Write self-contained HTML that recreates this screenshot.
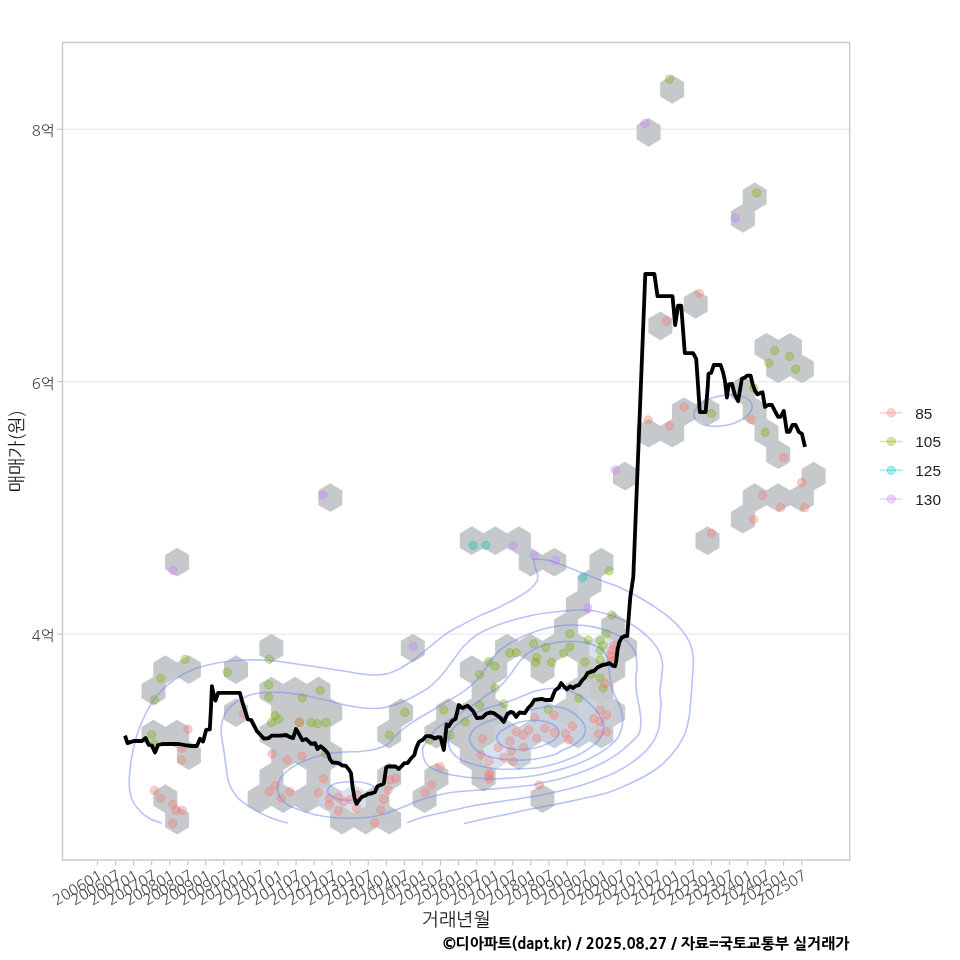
<!DOCTYPE html>
<html lang="ko"><head><meta charset="utf-8"><title>매매가 추이</title>
<style>
html,body{margin:0;padding:0;background:#fff;}
body{width:960px;height:960px;overflow:hidden;}
svg{display:block;}
.tk{font-family:"NanumGothic","Liberation Sans","Noto Sans CJK KR",sans-serif;font-size:14.9px;fill:#4d4d4d;}
.ax{font-family:"NanumGothic","Liberation Sans","Noto Sans CJK KR",sans-serif;font-size:18.4px;fill:#1a1a1a;}
.cap{font-family:"NanumGothic","Liberation Sans","Noto Sans CJK KR",sans-serif;font-size:14.9px;font-weight:800;fill:#000;}
.lg{font-family:"Liberation Sans","NanumGothic",sans-serif;font-size:15.4px;fill:#222;}
</style></head><body>
<svg width="960" height="960" viewBox="0 0 960 960">
<rect x="0" y="0" width="960" height="960" fill="#fff"/>
<line x1="62.5" x2="849.7" y1="129.3" y2="129.3" stroke="#ebebeb" stroke-width="1.4"/>
<line x1="62.5" x2="849.7" y1="381.7" y2="381.7" stroke="#ebebeb" stroke-width="1.4"/>
<line x1="62.5" x2="849.7" y1="634.1" y2="634.1" stroke="#ebebeb" stroke-width="1.4"/>
<path fill="#c5c9cc" d="M672.2,75.0 L684.2,82.2 L684.2,96.6 L672.2,103.8 L660.2,96.6 L660.2,82.2Z M648.6,118.0 L660.6,125.2 L660.6,139.6 L648.6,146.8 L636.6,139.6 L636.6,125.2Z M754.7,182.4 L766.7,189.7 L766.7,204.0 L754.7,211.2 L742.7,204.0 L742.7,189.7Z M742.9,203.9 L754.9,211.1 L754.9,225.5 L742.9,232.7 L730.9,225.5 L730.9,211.1Z M695.7,289.9 L707.7,297.1 L707.7,311.5 L695.7,318.7 L683.7,311.5 L683.7,297.1Z M660.4,311.4 L672.4,318.6 L672.4,333.0 L660.4,340.2 L648.4,333.0 L648.4,318.6Z M766.5,332.9 L778.5,340.1 L778.5,354.5 L766.5,361.7 L754.5,354.5 L754.5,340.1Z M790.0,332.9 L802.0,340.1 L802.0,354.5 L790.0,361.7 L778.0,354.5 L778.0,340.1Z M778.2,354.4 L790.2,361.6 L790.2,376.0 L778.2,383.2 L766.2,376.0 L766.2,361.6Z M801.8,354.4 L813.8,361.6 L813.8,376.0 L801.8,383.2 L789.8,376.0 L789.8,361.6Z M742.9,375.9 L754.9,383.1 L754.9,397.5 L742.9,404.7 L730.9,397.5 L730.9,383.1Z M683.9,397.4 L695.9,404.6 L695.9,418.9 L683.9,426.1 L671.9,418.9 L671.9,404.6Z M707.5,397.4 L719.5,404.6 L719.5,418.9 L707.5,426.1 L695.5,418.9 L695.5,404.6Z M754.7,397.4 L766.7,404.6 L766.7,418.9 L754.7,426.1 L742.7,418.9 L742.7,404.6Z M648.6,418.8 L660.6,426.0 L660.6,440.4 L648.6,447.6 L636.6,440.4 L636.6,426.0Z M672.2,418.8 L684.2,426.0 L684.2,440.4 L672.2,447.6 L660.2,440.4 L660.2,426.0Z M766.5,418.8 L778.5,426.0 L778.5,440.4 L766.5,447.6 L754.5,440.4 L754.5,426.0Z M778.2,440.3 L790.2,447.5 L790.2,461.9 L778.2,469.1 L766.2,461.9 L766.2,447.5Z M625.0,461.8 L637.0,469.0 L637.0,483.4 L625.0,490.6 L613.0,483.4 L613.0,469.0Z M813.6,461.8 L825.6,469.0 L825.6,483.4 L813.6,490.6 L801.6,483.4 L801.6,469.0Z M330.3,483.3 L342.3,490.5 L342.3,504.9 L330.3,512.1 L318.3,504.9 L318.3,490.5Z M754.7,483.3 L766.7,490.5 L766.7,504.9 L754.7,512.1 L742.7,504.9 L742.7,490.5Z M778.2,483.3 L790.2,490.5 L790.2,504.9 L778.2,512.1 L766.2,504.9 L766.2,490.5Z M801.8,483.3 L813.8,490.5 L813.8,504.9 L801.8,512.1 L789.8,504.9 L789.8,490.5Z M742.9,504.8 L754.9,512.0 L754.9,526.4 L742.9,533.6 L730.9,526.4 L730.9,512.0Z M471.8,526.3 L483.8,533.5 L483.8,547.9 L471.8,555.1 L459.8,547.9 L459.8,533.5Z M495.3,526.3 L507.3,533.5 L507.3,547.9 L495.3,555.1 L483.3,547.9 L483.3,533.5Z M518.9,526.3 L530.9,533.5 L530.9,547.9 L518.9,555.1 L506.9,547.9 L506.9,533.5Z M707.5,526.3 L719.5,533.5 L719.5,547.9 L707.5,555.1 L695.5,547.9 L695.5,533.5Z M177.1,547.8 L189.1,555.0 L189.1,569.4 L177.1,576.6 L165.1,569.4 L165.1,555.0Z M530.7,547.8 L542.7,555.0 L542.7,569.4 L530.7,576.6 L518.7,569.4 L518.7,555.0Z M554.3,547.8 L566.3,555.0 L566.3,569.4 L554.3,576.6 L542.3,569.4 L542.3,555.0Z M601.4,547.8 L613.4,555.0 L613.4,569.4 L601.4,576.6 L589.4,569.4 L589.4,555.0Z M589.6,569.3 L601.6,576.5 L601.6,590.9 L589.6,598.1 L577.6,590.9 L577.6,576.5Z M577.9,590.8 L589.9,598.0 L589.9,612.4 L577.9,619.6 L565.9,612.4 L565.9,598.0Z M566.1,612.2 L578.1,619.4 L578.1,633.9 L566.1,641.0 L554.1,633.9 L554.1,619.4Z M613.2,612.2 L625.2,619.4 L625.2,633.9 L613.2,641.0 L601.2,633.9 L601.2,619.4Z M271.4,633.7 L283.4,640.9 L283.4,655.3 L271.4,662.5 L259.4,655.3 L259.4,640.9Z M412.8,633.7 L424.8,640.9 L424.8,655.3 L412.8,662.5 L400.8,655.3 L400.8,640.9Z M507.1,633.7 L519.1,640.9 L519.1,655.3 L507.1,662.5 L495.1,655.3 L495.1,640.9Z M530.7,633.7 L542.7,640.9 L542.7,655.3 L530.7,662.5 L518.7,655.3 L518.7,640.9Z M554.3,633.7 L566.3,640.9 L566.3,655.3 L554.3,662.5 L542.3,655.3 L542.3,640.9Z M577.9,633.7 L589.9,640.9 L589.9,655.3 L577.9,662.5 L565.9,655.3 L565.9,640.9Z M625.0,633.7 L637.0,640.9 L637.0,655.3 L625.0,662.5 L613.0,655.3 L613.0,640.9Z M165.3,655.2 L177.3,662.4 L177.3,676.8 L165.3,684.0 L153.3,676.8 L153.3,662.4Z M188.9,655.2 L200.9,662.4 L200.9,676.8 L188.9,684.0 L176.9,676.8 L176.9,662.4Z M236.0,655.2 L248.0,662.4 L248.0,676.8 L236.0,684.0 L224.0,676.8 L224.0,662.4Z M471.8,655.2 L483.8,662.4 L483.8,676.8 L471.8,684.0 L459.8,676.8 L459.8,662.4Z M495.3,655.2 L507.3,662.4 L507.3,676.8 L495.3,684.0 L483.3,676.8 L483.3,662.4Z M542.5,655.2 L554.5,662.4 L554.5,676.8 L542.5,684.0 L530.5,676.8 L530.5,662.4Z M589.6,655.2 L601.6,662.4 L601.6,676.8 L589.6,684.0 L577.6,676.8 L577.6,662.4Z M613.2,655.2 L625.2,662.4 L625.2,676.8 L613.2,684.0 L601.2,676.8 L601.2,662.4Z M153.5,676.7 L165.5,683.9 L165.5,698.3 L153.5,705.5 L141.5,698.3 L141.5,683.9Z M271.4,676.7 L283.4,683.9 L283.4,698.3 L271.4,705.5 L259.4,698.3 L259.4,683.9Z M295.0,676.7 L307.0,683.9 L307.0,698.3 L295.0,705.5 L283.0,698.3 L283.0,683.9Z M318.5,676.7 L330.5,683.9 L330.5,698.3 L318.5,705.5 L306.5,698.3 L306.5,683.9Z M483.6,676.7 L495.6,683.9 L495.6,698.3 L483.6,705.5 L471.6,698.3 L471.6,683.9Z M601.4,676.7 L613.4,683.9 L613.4,698.3 L601.4,705.5 L589.4,698.3 L589.4,683.9Z M236.0,698.2 L248.0,705.4 L248.0,719.8 L236.0,727.0 L224.0,719.8 L224.0,705.4Z M283.2,698.2 L295.2,705.4 L295.2,719.8 L283.2,727.0 L271.2,719.8 L271.2,705.4Z M306.7,698.2 L318.7,705.4 L318.7,719.8 L306.7,727.0 L294.7,719.8 L294.7,705.4Z M330.3,698.2 L342.3,705.4 L342.3,719.8 L330.3,727.0 L318.3,719.8 L318.3,705.4Z M401.0,698.2 L413.0,705.4 L413.0,719.8 L401.0,727.0 L389.0,719.8 L389.0,705.4Z M448.2,698.2 L460.2,705.4 L460.2,719.8 L448.2,727.0 L436.2,719.8 L436.2,705.4Z M471.8,698.2 L483.8,705.4 L483.8,719.8 L471.8,727.0 L459.8,719.8 L459.8,705.4Z M495.3,698.2 L507.3,705.4 L507.3,719.8 L495.3,727.0 L483.3,719.8 L483.3,705.4Z M153.5,719.7 L165.5,726.9 L165.5,741.3 L153.5,748.5 L141.5,741.3 L141.5,726.9Z M177.1,719.7 L189.1,726.9 L189.1,741.3 L177.1,748.5 L165.1,741.3 L165.1,726.9Z M271.4,719.7 L283.4,726.9 L283.4,741.3 L271.4,748.5 L259.4,741.3 L259.4,726.9Z M295.0,719.7 L307.0,726.9 L307.0,741.3 L295.0,748.5 L283.0,741.3 L283.0,726.9Z M318.5,719.7 L330.5,726.9 L330.5,741.3 L318.5,748.5 L306.5,741.3 L306.5,726.9Z M389.2,719.7 L401.2,726.9 L401.2,741.3 L389.2,748.5 L377.2,741.3 L377.2,726.9Z M436.4,719.7 L448.4,726.9 L448.4,741.3 L436.4,748.5 L424.4,741.3 L424.4,726.9Z M460.0,719.7 L472.0,726.9 L472.0,741.3 L460.0,748.5 L448.0,741.3 L448.0,726.9Z M483.6,719.7 L495.6,726.9 L495.6,741.3 L483.6,748.5 L471.6,741.3 L471.6,726.9Z M188.9,741.2 L200.9,748.4 L200.9,762.8 L188.9,770.0 L176.9,762.8 L176.9,748.4Z M283.2,741.2 L295.2,748.4 L295.2,762.8 L283.2,770.0 L271.2,762.8 L271.2,748.4Z M306.7,741.2 L318.7,748.4 L318.7,762.8 L306.7,770.0 L294.7,762.8 L294.7,748.4Z M330.3,741.2 L342.3,748.4 L342.3,762.8 L330.3,770.0 L318.3,762.8 L318.3,748.4Z M471.8,741.2 L483.8,748.4 L483.8,762.8 L471.8,770.0 L459.8,762.8 L459.8,748.4Z M271.4,762.7 L283.4,769.9 L283.4,784.3 L271.4,791.5 L259.4,784.3 L259.4,769.9Z M318.5,762.7 L330.5,769.9 L330.5,784.3 L318.5,791.5 L306.5,784.3 L306.5,769.9Z M389.2,762.7 L401.2,769.9 L401.2,784.3 L389.2,791.5 L377.2,784.3 L377.2,769.9Z M436.4,762.7 L448.4,769.9 L448.4,784.3 L436.4,791.5 L424.4,784.3 L424.4,769.9Z M483.6,762.7 L495.6,769.9 L495.6,784.3 L483.6,791.5 L471.6,784.3 L471.6,769.9Z M165.3,784.2 L177.3,791.4 L177.3,805.8 L165.3,813.0 L153.3,805.8 L153.3,791.4Z M259.6,784.2 L271.6,791.4 L271.6,805.8 L259.6,813.0 L247.6,805.8 L247.6,791.4Z M283.2,784.2 L295.2,791.4 L295.2,805.8 L283.2,813.0 L271.2,805.8 L271.2,791.4Z M306.7,784.2 L318.7,791.4 L318.7,805.8 L306.7,813.0 L294.7,805.8 L294.7,791.4Z M377.5,784.2 L389.5,791.4 L389.5,805.8 L377.5,813.0 L365.5,805.8 L365.5,791.4Z M424.6,784.2 L436.6,791.4 L436.6,805.8 L424.6,813.0 L412.6,805.8 L412.6,791.4Z M542.5,784.2 L554.5,791.4 L554.5,805.8 L542.5,813.0 L530.5,805.8 L530.5,791.4Z M177.1,805.7 L189.1,812.9 L189.1,827.3 L177.1,834.5 L165.1,827.3 L165.1,812.9Z M342.1,805.7 L354.1,812.9 L354.1,827.3 L342.1,834.5 L330.1,827.3 L330.1,812.9Z M365.7,805.7 L377.7,812.9 L377.7,827.3 L365.7,834.5 L353.7,827.3 L353.7,812.9Z M389.2,805.7 L401.2,812.9 L401.2,827.3 L389.2,834.5 L377.2,827.3 L377.2,812.9Z"/>
<path fill="#c8cdd3" d="M577.9,676.7 L589.9,683.9 L589.9,698.3 L577.9,705.5 L565.9,698.3 L565.9,683.9Z M566.1,698.2 L578.1,705.4 L578.1,719.8 L566.1,727.0 L554.1,719.8 L554.1,705.4Z M613.2,698.2 L625.2,705.4 L625.2,719.8 L613.2,727.0 L601.2,719.8 L601.2,705.4Z M601.4,719.7 L613.4,726.9 L613.4,741.3 L601.4,748.5 L589.4,741.3 L589.4,726.9Z"/>
<path fill="#c9d2dc" d="M542.5,698.2 L554.5,705.4 L554.5,719.8 L542.5,727.0 L530.5,719.8 L530.5,705.4Z M589.6,698.2 L601.6,705.4 L601.6,719.8 L589.6,727.0 L577.6,719.8 L577.6,705.4Z M507.1,719.7 L519.1,726.9 L519.1,741.3 L507.1,748.5 L495.1,741.3 L495.1,726.9Z M530.7,719.7 L542.7,726.9 L542.7,741.3 L530.7,748.5 L518.7,741.3 L518.7,726.9Z M554.3,719.7 L566.3,726.9 L566.3,741.3 L554.3,748.5 L542.3,741.3 L542.3,726.9Z M577.9,719.7 L589.9,726.9 L589.9,741.3 L577.9,748.5 L565.9,741.3 L565.9,726.9Z M518.9,741.2 L530.9,748.4 L530.9,762.8 L518.9,770.0 L506.9,762.8 L506.9,748.4Z M330.3,784.2 L342.3,791.4 L342.3,805.8 L330.3,813.0 L318.3,805.8 L318.3,791.4Z"/>
<path fill="#d6e2ee" d="M601.4,633.7 L613.4,640.9 L613.4,655.3 L601.4,662.5 L589.4,655.3 L589.4,640.9Z M495.3,741.2 L507.3,748.4 L507.3,762.8 L495.3,770.0 L483.3,762.8 L483.3,748.4Z M353.9,784.2 L365.9,791.4 L365.9,805.8 L353.9,813.0 L341.9,805.8 L341.9,791.4Z"/>
<g stroke-width="1">
<circle cx="413.3" cy="646.3" r="4.2" fill="#C77CFF" fill-opacity="0.35" stroke="#C77CFF" stroke-opacity="0.35"/>
<circle cx="513.0" cy="545.5" r="4.2" fill="#C77CFF" fill-opacity="0.35" stroke="#C77CFF" stroke-opacity="0.35"/>
<circle cx="534.0" cy="555.5" r="4.2" fill="#C77CFF" fill-opacity="0.35" stroke="#C77CFF" stroke-opacity="0.35"/>
<circle cx="555.3" cy="560.5" r="4.2" fill="#C77CFF" fill-opacity="0.35" stroke="#C77CFF" stroke-opacity="0.35"/>
<circle cx="587.8" cy="608.3" r="4.2" fill="#C77CFF" fill-opacity="0.35" stroke="#C77CFF" stroke-opacity="0.35"/>
<circle cx="615.4" cy="470.0" r="4.2" fill="#C77CFF" fill-opacity="0.35" stroke="#C77CFF" stroke-opacity="0.35"/>
<circle cx="735.3" cy="218.0" r="4.2" fill="#C77CFF" fill-opacity="0.35" stroke="#C77CFF" stroke-opacity="0.35"/>
<circle cx="645.0" cy="123.3" r="4.2" fill="#C77CFF" fill-opacity="0.35" stroke="#C77CFF" stroke-opacity="0.35"/>
<circle cx="323.1" cy="495.1" r="4.2" fill="#C77CFF" fill-opacity="0.35" stroke="#C77CFF" stroke-opacity="0.35"/>
<circle cx="173.1" cy="570.5" r="4.2" fill="#C77CFF" fill-opacity="0.35" stroke="#C77CFF" stroke-opacity="0.35"/>
<circle cx="473.3" cy="545.4" r="4.2" fill="#00BFC4" fill-opacity="0.35" stroke="#00BFC4" stroke-opacity="0.35"/>
<circle cx="485.8" cy="545.4" r="4.2" fill="#00BFC4" fill-opacity="0.35" stroke="#00BFC4" stroke-opacity="0.35"/>
<circle cx="582.6" cy="577.4" r="4.2" fill="#00BFC4" fill-opacity="0.35" stroke="#00BFC4" stroke-opacity="0.35"/>
<circle cx="185.0" cy="659.5" r="4.2" fill="#7CAE00" fill-opacity="0.35" stroke="#7CAE00" stroke-opacity="0.35"/>
<circle cx="160.8" cy="678.3" r="4.2" fill="#7CAE00" fill-opacity="0.35" stroke="#7CAE00" stroke-opacity="0.35"/>
<circle cx="154.5" cy="699.7" r="4.2" fill="#7CAE00" fill-opacity="0.35" stroke="#7CAE00" stroke-opacity="0.35"/>
<circle cx="227.2" cy="672.2" r="4.2" fill="#7CAE00" fill-opacity="0.35" stroke="#7CAE00" stroke-opacity="0.35"/>
<circle cx="269.2" cy="659.2" r="4.2" fill="#7CAE00" fill-opacity="0.35" stroke="#7CAE00" stroke-opacity="0.35"/>
<circle cx="268.8" cy="684.7" r="4.2" fill="#7CAE00" fill-opacity="0.35" stroke="#7CAE00" stroke-opacity="0.35"/>
<circle cx="268.8" cy="697.0" r="4.2" fill="#7CAE00" fill-opacity="0.35" stroke="#7CAE00" stroke-opacity="0.35"/>
<circle cx="151.7" cy="734.7" r="4.2" fill="#7CAE00" fill-opacity="0.35" stroke="#7CAE00" stroke-opacity="0.35"/>
<circle cx="154.2" cy="744.2" r="4.2" fill="#7CAE00" fill-opacity="0.35" stroke="#7CAE00" stroke-opacity="0.35"/>
<circle cx="302.2" cy="697.8" r="4.2" fill="#7CAE00" fill-opacity="0.35" stroke="#7CAE00" stroke-opacity="0.35"/>
<circle cx="320.2" cy="690.6" r="4.2" fill="#7CAE00" fill-opacity="0.35" stroke="#7CAE00" stroke-opacity="0.35"/>
<circle cx="275.0" cy="715.6" r="4.2" fill="#7CAE00" fill-opacity="0.35" stroke="#7CAE00" stroke-opacity="0.35"/>
<circle cx="278.8" cy="719.4" r="4.2" fill="#7CAE00" fill-opacity="0.35" stroke="#7CAE00" stroke-opacity="0.35"/>
<circle cx="271.5" cy="722.5" r="4.2" fill="#7CAE00" fill-opacity="0.35" stroke="#7CAE00" stroke-opacity="0.35"/>
<circle cx="311.2" cy="722.5" r="4.2" fill="#7CAE00" fill-opacity="0.35" stroke="#7CAE00" stroke-opacity="0.35"/>
<circle cx="317.5" cy="723.8" r="4.2" fill="#7CAE00" fill-opacity="0.35" stroke="#7CAE00" stroke-opacity="0.35"/>
<circle cx="326.2" cy="722.5" r="4.2" fill="#7CAE00" fill-opacity="0.35" stroke="#7CAE00" stroke-opacity="0.35"/>
<circle cx="299.4" cy="722.2" r="4.2" fill="#7CAE00" fill-opacity="0.35" stroke="#7CAE00" stroke-opacity="0.35"/>
<circle cx="325.6" cy="753.8" r="4.2" fill="#7CAE00" fill-opacity="0.35" stroke="#7CAE00" stroke-opacity="0.35"/>
<circle cx="389.5" cy="735.0" r="4.2" fill="#7CAE00" fill-opacity="0.35" stroke="#7CAE00" stroke-opacity="0.35"/>
<circle cx="405.0" cy="712.5" r="4.2" fill="#7CAE00" fill-opacity="0.35" stroke="#7CAE00" stroke-opacity="0.35"/>
<circle cx="443.7" cy="709.7" r="4.2" fill="#7CAE00" fill-opacity="0.35" stroke="#7CAE00" stroke-opacity="0.35"/>
<circle cx="465.0" cy="722.0" r="4.2" fill="#7CAE00" fill-opacity="0.35" stroke="#7CAE00" stroke-opacity="0.35"/>
<circle cx="479.7" cy="674.7" r="4.2" fill="#7CAE00" fill-opacity="0.35" stroke="#7CAE00" stroke-opacity="0.35"/>
<circle cx="488.7" cy="661.7" r="4.2" fill="#7CAE00" fill-opacity="0.35" stroke="#7CAE00" stroke-opacity="0.35"/>
<circle cx="495.0" cy="666.2" r="4.2" fill="#7CAE00" fill-opacity="0.35" stroke="#7CAE00" stroke-opacity="0.35"/>
<circle cx="495.0" cy="688.0" r="4.2" fill="#7CAE00" fill-opacity="0.35" stroke="#7CAE00" stroke-opacity="0.35"/>
<circle cx="479.7" cy="705.0" r="4.2" fill="#7CAE00" fill-opacity="0.35" stroke="#7CAE00" stroke-opacity="0.35"/>
<circle cx="509.7" cy="652.8" r="4.2" fill="#7CAE00" fill-opacity="0.35" stroke="#7CAE00" stroke-opacity="0.35"/>
<circle cx="516.2" cy="652.8" r="4.2" fill="#7CAE00" fill-opacity="0.35" stroke="#7CAE00" stroke-opacity="0.35"/>
<circle cx="533.7" cy="643.8" r="4.2" fill="#7CAE00" fill-opacity="0.35" stroke="#7CAE00" stroke-opacity="0.35"/>
<circle cx="536.7" cy="657.5" r="4.2" fill="#7CAE00" fill-opacity="0.35" stroke="#7CAE00" stroke-opacity="0.35"/>
<circle cx="450.0" cy="735.0" r="4.2" fill="#7CAE00" fill-opacity="0.35" stroke="#7CAE00" stroke-opacity="0.35"/>
<circle cx="429.2" cy="740.0" r="4.2" fill="#7CAE00" fill-opacity="0.35" stroke="#7CAE00" stroke-opacity="0.35"/>
<circle cx="503.8" cy="703.8" r="4.2" fill="#7CAE00" fill-opacity="0.35" stroke="#7CAE00" stroke-opacity="0.35"/>
<circle cx="548.1" cy="709.4" r="4.2" fill="#7CAE00" fill-opacity="0.35" stroke="#7CAE00" stroke-opacity="0.35"/>
<circle cx="578.8" cy="698.1" r="4.2" fill="#7CAE00" fill-opacity="0.35" stroke="#7CAE00" stroke-opacity="0.35"/>
<circle cx="535.8" cy="662.5" r="4.2" fill="#7CAE00" fill-opacity="0.35" stroke="#7CAE00" stroke-opacity="0.35"/>
<circle cx="551.7" cy="662.5" r="4.2" fill="#7CAE00" fill-opacity="0.35" stroke="#7CAE00" stroke-opacity="0.35"/>
<circle cx="570.0" cy="633.8" r="4.2" fill="#7CAE00" fill-opacity="0.35" stroke="#7CAE00" stroke-opacity="0.35"/>
<circle cx="570.0" cy="646.9" r="4.2" fill="#7CAE00" fill-opacity="0.35" stroke="#7CAE00" stroke-opacity="0.35"/>
<circle cx="563.8" cy="653.1" r="4.2" fill="#7CAE00" fill-opacity="0.35" stroke="#7CAE00" stroke-opacity="0.35"/>
<circle cx="588.1" cy="640.0" r="4.2" fill="#7CAE00" fill-opacity="0.35" stroke="#7CAE00" stroke-opacity="0.35"/>
<circle cx="600.0" cy="640.6" r="4.2" fill="#7CAE00" fill-opacity="0.35" stroke="#7CAE00" stroke-opacity="0.35"/>
<circle cx="606.2" cy="633.8" r="4.2" fill="#7CAE00" fill-opacity="0.35" stroke="#7CAE00" stroke-opacity="0.35"/>
<circle cx="603.1" cy="645.6" r="4.2" fill="#7CAE00" fill-opacity="0.35" stroke="#7CAE00" stroke-opacity="0.35"/>
<circle cx="600.0" cy="650.6" r="4.2" fill="#7CAE00" fill-opacity="0.35" stroke="#7CAE00" stroke-opacity="0.35"/>
<circle cx="585.0" cy="661.9" r="4.2" fill="#7CAE00" fill-opacity="0.35" stroke="#7CAE00" stroke-opacity="0.35"/>
<circle cx="600.0" cy="660.0" r="4.2" fill="#7CAE00" fill-opacity="0.35" stroke="#7CAE00" stroke-opacity="0.35"/>
<circle cx="611.9" cy="615.0" r="4.2" fill="#7CAE00" fill-opacity="0.35" stroke="#7CAE00" stroke-opacity="0.35"/>
<circle cx="591.2" cy="673.8" r="4.2" fill="#7CAE00" fill-opacity="0.35" stroke="#7CAE00" stroke-opacity="0.35"/>
<circle cx="600.0" cy="678.1" r="4.2" fill="#7CAE00" fill-opacity="0.35" stroke="#7CAE00" stroke-opacity="0.35"/>
<circle cx="603.1" cy="688.1" r="4.2" fill="#7CAE00" fill-opacity="0.35" stroke="#7CAE00" stroke-opacity="0.35"/>
<circle cx="545.8" cy="647.5" r="4.2" fill="#7CAE00" fill-opacity="0.35" stroke="#7CAE00" stroke-opacity="0.35"/>
<circle cx="609.2" cy="570.8" r="4.2" fill="#7CAE00" fill-opacity="0.35" stroke="#7CAE00" stroke-opacity="0.35"/>
<circle cx="774.6" cy="350.4" r="4.2" fill="#7CAE00" fill-opacity="0.35" stroke="#7CAE00" stroke-opacity="0.35"/>
<circle cx="789.5" cy="356.4" r="4.2" fill="#7CAE00" fill-opacity="0.35" stroke="#7CAE00" stroke-opacity="0.35"/>
<circle cx="768.8" cy="363.0" r="4.2" fill="#7CAE00" fill-opacity="0.35" stroke="#7CAE00" stroke-opacity="0.35"/>
<circle cx="795.7" cy="369.2" r="4.2" fill="#7CAE00" fill-opacity="0.35" stroke="#7CAE00" stroke-opacity="0.35"/>
<circle cx="711.4" cy="413.4" r="4.2" fill="#7CAE00" fill-opacity="0.35" stroke="#7CAE00" stroke-opacity="0.35"/>
<circle cx="765.3" cy="432.4" r="4.2" fill="#7CAE00" fill-opacity="0.35" stroke="#7CAE00" stroke-opacity="0.35"/>
<circle cx="753.8" cy="388.0" r="4.2" fill="#7CAE00" fill-opacity="0.35" stroke="#7CAE00" stroke-opacity="0.35"/>
<circle cx="756.7" cy="193.0" r="4.2" fill="#7CAE00" fill-opacity="0.35" stroke="#7CAE00" stroke-opacity="0.35"/>
<circle cx="669.6" cy="79.2" r="4.2" fill="#7CAE00" fill-opacity="0.35" stroke="#7CAE00" stroke-opacity="0.35"/>
<circle cx="188.0" cy="729.2" r="4.2" fill="#F8766D" fill-opacity="0.35" stroke="#F8766D" stroke-opacity="0.35"/>
<circle cx="182.0" cy="748.3" r="4.2" fill="#F8766D" fill-opacity="0.35" stroke="#F8766D" stroke-opacity="0.35"/>
<circle cx="181.7" cy="760.0" r="4.2" fill="#F8766D" fill-opacity="0.35" stroke="#F8766D" stroke-opacity="0.35"/>
<circle cx="154.5" cy="790.5" r="4.2" fill="#F8766D" fill-opacity="0.35" stroke="#F8766D" stroke-opacity="0.35"/>
<circle cx="160.8" cy="798.0" r="4.2" fill="#F8766D" fill-opacity="0.35" stroke="#F8766D" stroke-opacity="0.35"/>
<circle cx="172.8" cy="804.5" r="4.2" fill="#F8766D" fill-opacity="0.35" stroke="#F8766D" stroke-opacity="0.35"/>
<circle cx="175.8" cy="810.3" r="4.2" fill="#F8766D" fill-opacity="0.35" stroke="#F8766D" stroke-opacity="0.35"/>
<circle cx="182.2" cy="810.3" r="4.2" fill="#F8766D" fill-opacity="0.35" stroke="#F8766D" stroke-opacity="0.35"/>
<circle cx="172.8" cy="823.3" r="4.2" fill="#F8766D" fill-opacity="0.35" stroke="#F8766D" stroke-opacity="0.35"/>
<circle cx="272.1" cy="753.8" r="4.2" fill="#F8766D" fill-opacity="0.35" stroke="#F8766D" stroke-opacity="0.35"/>
<circle cx="287.1" cy="760.0" r="4.2" fill="#F8766D" fill-opacity="0.35" stroke="#F8766D" stroke-opacity="0.35"/>
<circle cx="301.9" cy="756.2" r="4.2" fill="#F8766D" fill-opacity="0.35" stroke="#F8766D" stroke-opacity="0.35"/>
<circle cx="323.5" cy="778.8" r="4.2" fill="#F8766D" fill-opacity="0.35" stroke="#F8766D" stroke-opacity="0.35"/>
<circle cx="243.8" cy="713.8" r="4.2" fill="#F8766D" fill-opacity="0.35" stroke="#F8766D" stroke-opacity="0.35"/>
<circle cx="275.0" cy="785.6" r="4.2" fill="#F8766D" fill-opacity="0.35" stroke="#F8766D" stroke-opacity="0.35"/>
<circle cx="299.4" cy="722.2" r="4.2" fill="#F8766D" fill-opacity="0.35" stroke="#F8766D" stroke-opacity="0.35"/>
<circle cx="318.3" cy="793.0" r="4.2" fill="#F8766D" fill-opacity="0.35" stroke="#F8766D" stroke-opacity="0.35"/>
<circle cx="329.2" cy="798.3" r="4.2" fill="#F8766D" fill-opacity="0.35" stroke="#F8766D" stroke-opacity="0.35"/>
<circle cx="338.3" cy="797.2" r="4.2" fill="#F8766D" fill-opacity="0.35" stroke="#F8766D" stroke-opacity="0.35"/>
<circle cx="329.2" cy="804.7" r="4.2" fill="#F8766D" fill-opacity="0.35" stroke="#F8766D" stroke-opacity="0.35"/>
<circle cx="344.2" cy="801.7" r="4.2" fill="#F8766D" fill-opacity="0.35" stroke="#F8766D" stroke-opacity="0.35"/>
<circle cx="350.8" cy="799.2" r="4.2" fill="#F8766D" fill-opacity="0.35" stroke="#F8766D" stroke-opacity="0.35"/>
<circle cx="338.3" cy="810.8" r="4.2" fill="#F8766D" fill-opacity="0.35" stroke="#F8766D" stroke-opacity="0.35"/>
<circle cx="356.7" cy="808.3" r="4.2" fill="#F8766D" fill-opacity="0.35" stroke="#F8766D" stroke-opacity="0.35"/>
<circle cx="357.5" cy="795.0" r="4.2" fill="#F8766D" fill-opacity="0.35" stroke="#F8766D" stroke-opacity="0.35"/>
<circle cx="380.8" cy="810.0" r="4.2" fill="#F8766D" fill-opacity="0.35" stroke="#F8766D" stroke-opacity="0.35"/>
<circle cx="374.7" cy="822.8" r="4.2" fill="#F8766D" fill-opacity="0.35" stroke="#F8766D" stroke-opacity="0.35"/>
<circle cx="383.7" cy="799.2" r="4.2" fill="#F8766D" fill-opacity="0.35" stroke="#F8766D" stroke-opacity="0.35"/>
<circle cx="388.3" cy="790.0" r="4.2" fill="#F8766D" fill-opacity="0.35" stroke="#F8766D" stroke-opacity="0.35"/>
<circle cx="390.0" cy="780.0" r="4.2" fill="#F8766D" fill-opacity="0.35" stroke="#F8766D" stroke-opacity="0.35"/>
<circle cx="395.8" cy="778.3" r="4.2" fill="#F8766D" fill-opacity="0.35" stroke="#F8766D" stroke-opacity="0.35"/>
<circle cx="290.0" cy="791.7" r="4.2" fill="#F8766D" fill-opacity="0.35" stroke="#F8766D" stroke-opacity="0.35"/>
<circle cx="269.2" cy="791.7" r="4.2" fill="#F8766D" fill-opacity="0.35" stroke="#F8766D" stroke-opacity="0.35"/>
<circle cx="281.2" cy="798.0" r="4.2" fill="#F8766D" fill-opacity="0.35" stroke="#F8766D" stroke-opacity="0.35"/>
<circle cx="440.3" cy="766.7" r="4.2" fill="#F8766D" fill-opacity="0.35" stroke="#F8766D" stroke-opacity="0.35"/>
<circle cx="431.7" cy="785.0" r="4.2" fill="#F8766D" fill-opacity="0.35" stroke="#F8766D" stroke-opacity="0.35"/>
<circle cx="425.3" cy="792.5" r="4.2" fill="#F8766D" fill-opacity="0.35" stroke="#F8766D" stroke-opacity="0.35"/>
<circle cx="489.2" cy="773.3" r="4.2" fill="#F8766D" fill-opacity="0.35" stroke="#F8766D" stroke-opacity="0.35"/>
<circle cx="489.2" cy="779.2" r="4.2" fill="#F8766D" fill-opacity="0.35" stroke="#F8766D" stroke-opacity="0.35"/>
<circle cx="539.2" cy="785.0" r="4.2" fill="#F8766D" fill-opacity="0.35" stroke="#F8766D" stroke-opacity="0.35"/>
<circle cx="482.5" cy="738.8" r="4.2" fill="#F8766D" fill-opacity="0.35" stroke="#F8766D" stroke-opacity="0.35"/>
<circle cx="534.4" cy="717.5" r="4.2" fill="#F8766D" fill-opacity="0.35" stroke="#F8766D" stroke-opacity="0.35"/>
<circle cx="553.8" cy="715.0" r="4.2" fill="#F8766D" fill-opacity="0.35" stroke="#F8766D" stroke-opacity="0.35"/>
<circle cx="545.0" cy="728.1" r="4.2" fill="#F8766D" fill-opacity="0.35" stroke="#F8766D" stroke-opacity="0.35"/>
<circle cx="528.8" cy="730.0" r="4.2" fill="#F8766D" fill-opacity="0.35" stroke="#F8766D" stroke-opacity="0.35"/>
<circle cx="516.2" cy="731.9" r="4.2" fill="#F8766D" fill-opacity="0.35" stroke="#F8766D" stroke-opacity="0.35"/>
<circle cx="536.9" cy="738.1" r="4.2" fill="#F8766D" fill-opacity="0.35" stroke="#F8766D" stroke-opacity="0.35"/>
<circle cx="523.1" cy="735.0" r="4.2" fill="#F8766D" fill-opacity="0.35" stroke="#F8766D" stroke-opacity="0.35"/>
<circle cx="554.4" cy="732.5" r="4.2" fill="#F8766D" fill-opacity="0.35" stroke="#F8766D" stroke-opacity="0.35"/>
<circle cx="572.5" cy="726.2" r="4.2" fill="#F8766D" fill-opacity="0.35" stroke="#F8766D" stroke-opacity="0.35"/>
<circle cx="565.6" cy="733.8" r="4.2" fill="#F8766D" fill-opacity="0.35" stroke="#F8766D" stroke-opacity="0.35"/>
<circle cx="568.8" cy="740.0" r="4.2" fill="#F8766D" fill-opacity="0.35" stroke="#F8766D" stroke-opacity="0.35"/>
<circle cx="510.0" cy="741.2" r="4.2" fill="#F8766D" fill-opacity="0.35" stroke="#F8766D" stroke-opacity="0.35"/>
<circle cx="498.1" cy="747.5" r="4.2" fill="#F8766D" fill-opacity="0.35" stroke="#F8766D" stroke-opacity="0.35"/>
<circle cx="523.8" cy="747.5" r="4.2" fill="#F8766D" fill-opacity="0.35" stroke="#F8766D" stroke-opacity="0.35"/>
<circle cx="503.8" cy="757.5" r="4.2" fill="#F8766D" fill-opacity="0.35" stroke="#F8766D" stroke-opacity="0.35"/>
<circle cx="511.2" cy="751.2" r="4.2" fill="#F8766D" fill-opacity="0.35" stroke="#F8766D" stroke-opacity="0.35"/>
<circle cx="513.1" cy="761.2" r="4.2" fill="#F8766D" fill-opacity="0.35" stroke="#F8766D" stroke-opacity="0.35"/>
<circle cx="488.8" cy="761.2" r="4.2" fill="#F8766D" fill-opacity="0.35" stroke="#F8766D" stroke-opacity="0.35"/>
<circle cx="481.2" cy="755.0" r="4.2" fill="#F8766D" fill-opacity="0.35" stroke="#F8766D" stroke-opacity="0.35"/>
<circle cx="488.8" cy="776.2" r="4.2" fill="#F8766D" fill-opacity="0.35" stroke="#F8766D" stroke-opacity="0.35"/>
<circle cx="593.8" cy="718.8" r="4.2" fill="#F8766D" fill-opacity="0.35" stroke="#F8766D" stroke-opacity="0.35"/>
<circle cx="598.8" cy="733.8" r="4.2" fill="#F8766D" fill-opacity="0.35" stroke="#F8766D" stroke-opacity="0.35"/>
<circle cx="600.0" cy="710.0" r="4.2" fill="#F8766D" fill-opacity="0.35" stroke="#F8766D" stroke-opacity="0.35"/>
<circle cx="606.7" cy="715.0" r="4.2" fill="#F8766D" fill-opacity="0.35" stroke="#F8766D" stroke-opacity="0.35"/>
<circle cx="600.0" cy="721.7" r="4.2" fill="#F8766D" fill-opacity="0.35" stroke="#F8766D" stroke-opacity="0.35"/>
<circle cx="606.7" cy="731.7" r="4.2" fill="#F8766D" fill-opacity="0.35" stroke="#F8766D" stroke-opacity="0.35"/>
<circle cx="611.9" cy="650.0" r="4.2" fill="#F8766D" fill-opacity="0.35" stroke="#F8766D" stroke-opacity="0.35"/>
<circle cx="611.9" cy="656.2" r="4.2" fill="#F8766D" fill-opacity="0.35" stroke="#F8766D" stroke-opacity="0.35"/>
<circle cx="605.0" cy="683.8" r="4.2" fill="#F8766D" fill-opacity="0.35" stroke="#F8766D" stroke-opacity="0.35"/>
<circle cx="699.3" cy="293.4" r="4.2" fill="#F8766D" fill-opacity="0.35" stroke="#F8766D" stroke-opacity="0.35"/>
<circle cx="666.2" cy="321.2" r="4.2" fill="#F8766D" fill-opacity="0.35" stroke="#F8766D" stroke-opacity="0.35"/>
<circle cx="684.2" cy="407.0" r="4.2" fill="#F8766D" fill-opacity="0.35" stroke="#F8766D" stroke-opacity="0.35"/>
<circle cx="648.2" cy="420.0" r="4.2" fill="#F8766D" fill-opacity="0.35" stroke="#F8766D" stroke-opacity="0.35"/>
<circle cx="669.4" cy="426.0" r="4.2" fill="#F8766D" fill-opacity="0.35" stroke="#F8766D" stroke-opacity="0.35"/>
<circle cx="750.8" cy="419.5" r="4.2" fill="#F8766D" fill-opacity="0.35" stroke="#F8766D" stroke-opacity="0.35"/>
<circle cx="783.8" cy="457.3" r="4.2" fill="#F8766D" fill-opacity="0.35" stroke="#F8766D" stroke-opacity="0.35"/>
<circle cx="801.6" cy="482.5" r="4.2" fill="#F8766D" fill-opacity="0.35" stroke="#F8766D" stroke-opacity="0.35"/>
<circle cx="762.6" cy="495.2" r="4.2" fill="#F8766D" fill-opacity="0.35" stroke="#F8766D" stroke-opacity="0.35"/>
<circle cx="780.6" cy="507.5" r="4.2" fill="#F8766D" fill-opacity="0.35" stroke="#F8766D" stroke-opacity="0.35"/>
<circle cx="804.8" cy="507.5" r="4.2" fill="#F8766D" fill-opacity="0.35" stroke="#F8766D" stroke-opacity="0.35"/>
<circle cx="753.5" cy="519.4" r="4.2" fill="#F8766D" fill-opacity="0.35" stroke="#F8766D" stroke-opacity="0.35"/>
<circle cx="711.3" cy="533.3" r="4.2" fill="#F8766D" fill-opacity="0.35" stroke="#F8766D" stroke-opacity="0.35"/>
<circle cx="613.8" cy="645.5" r="4.2" fill="#F8766D" fill-opacity="0.35" stroke="#F8766D" stroke-opacity="0.35"/>
<circle cx="610.2" cy="654.5" r="4.2" fill="#F8766D" fill-opacity="0.35" stroke="#F8766D" stroke-opacity="0.35"/>
<circle cx="613.3" cy="660.5" r="4.2" fill="#F8766D" fill-opacity="0.35" stroke="#F8766D" stroke-opacity="0.35"/>
</g>
<g fill="none" stroke="#7288ee" stroke-opacity="0.5" stroke-width="1.6" stroke-linecap="round" stroke-linejoin="round">
<path d="M161.2,823.0C159.4,822.3 153.8,820.9 150.0,818.8C146.2,816.6 141.9,813.5 138.8,810.0C135.6,806.5 132.8,802.1 131.2,797.5C129.7,792.9 129.2,788.8 129.2,782.5C129.2,776.2 130.1,767.5 131.2,760.0C132.4,752.5 134.0,745.0 136.2,737.5C138.5,730.0 141.5,722.1 145.0,715.0C148.5,707.9 152.7,700.8 157.5,695.0C162.3,689.2 167.5,684.4 173.8,680.0C180.0,675.6 187.3,671.7 195.0,668.8C202.7,665.8 211.7,664.0 220.0,662.5C228.3,661.0 236.7,660.3 245.0,660.0C253.3,659.7 261.7,659.9 270.0,660.5C278.3,661.1 286.7,662.6 295.0,663.8C303.3,664.9 311.7,666.2 320.0,667.5C328.3,668.8 338.3,670.2 345.0,671.2C351.7,672.3 355.0,673.1 360.0,673.8C365.0,674.4 370.3,675.0 375.0,675.0C379.7,675.0 383.8,674.6 388.0,673.5C392.2,672.4 395.8,670.8 400.0,668.5C404.2,666.2 408.3,663.6 413.3,660.0C418.3,656.4 424.4,651.2 430.0,646.7C435.6,642.2 441.1,637.0 446.7,633.3C452.2,629.5 457.8,627.2 463.3,624.2C468.9,621.2 474.1,618.4 480.0,615.6C485.9,612.8 492.5,610.5 498.8,607.5C505.0,604.5 512.3,600.5 517.5,597.5C522.7,594.5 526.8,592.1 530.0,589.4C533.2,586.7 535.6,583.9 536.9,581.2C538.1,578.6 537.8,576.0 537.5,573.8C537.2,571.5 535.6,569.9 535.0,567.5C534.4,565.1 534.0,560.8 533.8,559.4"/>
<path d="M533.8,559.4C535.2,559.4 539.4,559.1 542.5,559.4C545.6,559.7 548.3,560.0 552.5,561.2C556.7,562.5 562.5,564.9 567.5,566.9C572.5,568.9 577.1,570.9 582.5,573.1C587.9,575.3 594.0,577.7 600.0,580.0C606.0,582.3 612.5,584.2 618.3,586.7C624.1,589.2 629.4,592.0 635.0,595.0C640.6,598.0 646.2,601.4 651.7,605.0C657.2,608.6 663.3,612.5 668.3,616.7C673.3,620.9 678.1,625.6 681.7,630.0C685.3,634.4 688.1,638.6 690.0,643.3C691.9,648.0 692.9,652.7 693.3,658.3C693.7,663.9 692.9,669.8 692.5,676.7C692.1,683.7 691.3,693.3 690.8,700.0C690.2,706.7 690.2,711.2 689.2,716.7C688.2,722.2 687.1,728.0 685.0,733.3C682.9,738.6 680.3,743.3 676.7,748.3C673.1,753.3 668.3,758.8 663.3,763.3C658.3,767.8 652.8,771.4 646.7,775.0C640.6,778.6 633.4,782.0 626.7,785.0C620.0,788.0 614.0,790.8 606.7,793.0C599.4,795.2 591.6,796.6 583.0,798.5C574.4,800.4 564.4,802.6 555.0,804.5C545.6,806.4 535.9,808.1 526.7,810.0C517.5,811.9 508.1,814.1 500.0,815.8C491.9,817.5 484.2,819.0 478.3,820.3C472.4,821.5 467.0,822.8 464.7,823.3"/>
<path d="M287.0,823.0C284.2,822.1 275.8,819.9 270.0,817.5C264.2,815.1 257.9,812.1 252.5,808.8C247.1,805.4 241.5,801.9 237.5,797.5C233.5,793.1 230.6,787.5 228.8,782.5C226.9,777.5 227.1,772.9 226.2,767.5C225.4,762.1 224.6,755.8 223.8,750.0C222.9,744.2 221.5,737.5 221.2,732.5C221.0,727.5 221.5,723.8 222.5,720.0C223.5,716.2 225.0,713.1 227.5,710.0C230.0,706.9 233.8,703.8 237.5,701.2C241.2,698.8 245.4,696.5 250.0,695.0C254.6,693.5 259.6,692.9 265.0,692.5C270.4,692.1 276.7,692.2 282.5,692.5C288.3,692.8 293.8,693.5 300.0,694.5C306.2,695.5 313.3,697.2 320.0,698.8C326.7,700.3 333.3,702.3 340.0,703.8C346.7,705.2 353.6,706.7 360.0,707.5C366.4,708.3 372.2,708.8 378.3,708.3C384.4,707.8 390.9,706.1 396.7,704.2C402.5,702.3 407.8,699.6 413.3,696.7C418.9,693.8 425.0,690.6 430.0,686.7C435.0,682.8 439.4,677.8 443.3,673.3C447.2,668.8 450.0,664.4 453.3,660.0C456.6,655.6 459.4,650.9 463.3,646.7C467.2,642.5 471.7,638.3 476.7,635.0C481.7,631.7 487.2,629.2 493.3,626.7C499.4,624.2 507.2,621.8 513.3,620.0C519.4,618.2 525.1,616.9 530.0,615.8C534.9,614.7 537.3,614.3 542.5,613.5C547.7,612.7 555.0,611.8 561.2,611.2C567.5,610.7 574.7,610.1 580.0,610.0C585.3,609.9 588.3,610.0 593.3,610.8C598.3,611.6 604.4,613.2 610.0,615.0C615.6,616.8 621.7,619.2 626.7,621.7C631.7,624.2 635.8,626.8 640.0,630.0C644.2,633.2 648.5,637.2 651.7,640.8C654.9,644.4 657.4,648.0 659.2,651.7C661.0,655.5 662.1,659.1 662.5,663.3C662.9,667.5 662.1,672.2 661.7,676.7C661.3,681.2 660.1,685.6 660.0,690.0C659.9,694.4 660.8,698.8 660.8,703.3C660.8,707.8 660.3,712.8 660.0,716.7C659.7,720.6 660.0,723.1 659.2,726.7C658.4,730.3 657.1,734.4 655.0,738.3C652.9,742.2 650.3,746.1 646.7,750.0C643.1,753.9 638.3,758.1 633.3,761.7C628.3,765.3 622.8,768.7 616.7,771.7C610.6,774.8 603.4,777.5 596.7,780.0C590.0,782.5 583.9,784.6 576.7,786.7C569.5,788.8 561.6,790.7 553.3,792.5C545.0,794.3 535.6,796.0 526.7,797.5C517.8,799.0 508.9,800.3 500.0,801.7C491.1,803.1 482.2,804.1 473.3,805.8C464.4,807.5 454.8,809.9 446.7,811.7C438.6,813.5 431.5,814.7 425.0,816.5C418.5,818.3 410.4,821.5 407.5,822.5"/>
<path d="M391.7,740.0C393.9,737.8 396.4,734.5 400.0,731.5C403.6,728.5 408.3,725.0 413.3,721.7C418.3,718.4 424.4,715.0 430.0,711.7C435.6,708.4 441.1,705.0 446.7,701.7C452.2,698.4 458.3,695.3 463.3,691.7C468.3,688.1 472.8,684.2 476.7,680.0C480.6,675.8 483.4,671.2 486.7,666.7C490.0,662.2 492.8,657.2 496.7,653.3C500.6,649.4 505.3,646.2 510.0,643.3C514.7,640.4 520.0,638.0 525.0,635.8C530.0,633.6 534.8,631.6 540.0,630.0C545.2,628.4 550.4,627.1 556.2,626.2C562.1,625.4 568.8,624.9 575.0,625.0C581.2,625.1 587.9,625.8 593.8,626.9C599.6,628.0 605.1,629.8 610.0,631.7C614.9,633.6 619.7,635.8 623.3,638.3C626.9,640.8 629.6,643.9 631.7,646.7C633.8,649.5 634.9,651.7 635.8,655.0C636.7,658.3 637.0,662.5 637.0,666.7C637.0,670.9 635.8,675.6 635.8,680.0C635.8,684.4 636.1,688.8 636.7,693.3C637.3,697.8 638.5,702.2 639.2,706.7C639.9,711.2 640.8,715.6 640.8,720.0C640.8,724.4 641.0,729.4 639.2,733.3C637.4,737.2 633.5,740.0 630.0,743.3C626.5,746.6 622.8,750.1 618.3,753.3C613.8,756.5 608.8,759.6 603.3,762.5C597.8,765.4 591.4,768.3 585.0,770.8C578.6,773.3 572.5,775.4 565.0,777.5C557.5,779.6 546.4,781.9 540.0,783.3C533.6,784.7 533.4,785.0 526.7,785.8C520.0,786.6 508.9,787.5 500.0,788.3C491.1,789.1 480.8,789.9 473.3,790.5C465.8,791.1 461.2,791.2 455.0,792.0C448.8,792.8 442.2,794.0 436.0,795.5C429.8,797.0 424.0,798.7 418.0,800.8C412.0,802.9 405.8,806.1 400.0,808.3C394.2,810.5 388.9,812.7 383.3,814.2C377.8,815.7 372.2,816.8 366.7,817.5C361.1,818.2 355.6,818.3 350.0,818.3C344.4,818.3 338.9,818.0 333.3,817.5C327.8,817.0 322.2,816.2 316.7,815.0C311.1,813.8 304.8,811.7 300.0,810.0C295.2,808.3 291.3,807.2 288.0,805.0C284.7,802.8 281.8,799.8 280.0,797.0C278.2,794.2 277.5,791.0 277.5,788.0C277.5,785.0 278.4,781.8 280.0,779.0C281.6,776.2 284.2,773.4 287.0,771.0C289.8,768.6 293.2,766.5 297.0,764.5C300.8,762.5 304.9,760.5 310.0,758.8C315.1,757.0 321.7,754.9 327.5,753.8C333.3,752.6 339.6,752.4 345.0,752.0C350.4,751.6 355.0,752.0 360.0,751.5C365.0,751.0 370.6,750.3 375.0,749.2C379.4,748.1 383.9,746.5 386.7,745.0C389.5,743.5 389.5,742.2 391.7,740.0Z"/>
<path d="M423.3,746.7C424.4,743.6 428.1,741.1 430.0,738.3C431.9,735.5 432.2,732.8 435.0,730.0C437.8,727.2 442.5,724.5 446.7,721.7C450.9,718.9 455.6,716.1 460.0,713.3C464.4,710.5 468.9,708.0 473.3,705.0C477.8,702.0 482.2,698.1 486.7,695.0C491.1,691.9 496.1,689.6 500.0,686.2C503.9,682.9 506.9,679.0 510.0,675.0C513.1,671.0 515.6,666.2 518.8,662.5C521.9,658.8 525.0,655.2 528.8,652.5C532.5,649.8 536.7,647.9 541.2,646.2C545.8,644.6 551.0,643.3 556.2,642.5C561.5,641.7 567.3,641.1 572.5,641.2C577.7,641.4 583.1,642.1 587.5,643.1C591.9,644.1 595.6,645.5 598.8,647.5C601.9,649.5 604.6,651.9 606.2,655.0C607.9,658.1 608.1,662.5 608.8,666.2C609.4,670.0 609.4,673.5 610.0,677.5C610.6,681.5 611.2,686.0 612.5,690.0C613.8,694.0 616.2,698.5 617.5,701.2C618.8,704.0 619.2,704.1 620.0,706.7C620.8,709.3 622.2,713.4 622.5,716.7C622.8,720.0 622.8,723.2 622.0,726.7C621.2,730.2 620.0,734.4 617.5,738.0C615.0,741.6 610.7,745.2 606.7,748.3C602.7,751.4 598.3,754.1 593.3,756.7C588.3,759.4 582.5,762.0 576.7,764.2C570.9,766.4 564.4,768.2 558.3,770.0C552.2,771.8 545.3,773.6 540.0,774.7C534.7,775.8 533.4,776.0 526.7,776.7C520.0,777.4 508.1,778.4 500.0,778.7C491.9,779.0 485.5,778.8 478.3,778.3C471.1,777.8 463.1,776.9 456.7,775.8C450.3,774.7 444.7,773.4 440.0,771.7C435.3,770.0 431.1,768.3 428.3,765.8C425.5,763.3 424.1,759.9 423.3,756.7C422.5,753.5 422.2,749.8 423.3,746.7Z"/>
<path d="M448.3,741.7C448.2,738.4 449.1,734.8 450.8,731.7C452.5,728.6 455.1,725.9 458.3,723.3C461.5,720.6 465.3,718.3 470.0,715.8C474.7,713.3 481.7,710.2 486.7,708.3C491.7,706.4 495.7,705.7 500.0,704.3C504.3,702.9 508.3,701.5 512.5,700.0C516.7,698.5 520.8,696.6 525.0,695.0C529.2,693.4 533.3,691.7 537.5,690.6C541.7,689.5 545.8,688.8 550.0,688.5C554.2,688.2 558.8,688.2 562.5,688.8C566.2,689.3 569.2,690.4 572.5,691.9C575.8,693.4 579.4,695.3 582.5,697.5C585.6,699.7 588.5,702.3 591.2,705.0C594.0,707.7 596.8,710.6 598.8,713.8C600.7,716.9 602.4,720.6 603.1,723.8C603.8,726.9 603.6,730.0 603.0,732.5C602.4,735.0 601.4,736.6 599.5,739.0C597.6,741.4 595.2,744.0 591.7,746.7C588.2,749.4 583.3,752.5 578.3,755.0C573.3,757.5 568.1,759.6 561.7,761.7C555.3,763.8 545.8,766.4 540.0,767.5C534.2,768.6 533.4,768.2 526.7,768.5C520.0,768.8 508.1,769.7 500.0,769.2C491.9,768.8 484.7,767.3 478.3,765.8C471.9,764.3 466.1,762.4 461.7,760.0C457.3,757.6 453.9,754.8 451.7,751.7C449.5,748.7 448.4,745.0 448.3,741.7Z"/>
<path d="M470.0,735.8C470.7,733.3 472.2,730.6 475.0,728.3C477.8,725.9 482.0,723.6 486.7,721.7C491.4,719.8 497.8,718.2 503.3,716.7C508.9,715.2 514.4,713.9 520.0,712.5C525.6,711.1 531.7,709.5 536.7,708.5C541.7,707.5 545.7,706.3 550.0,706.2C554.3,706.2 558.8,707.1 562.5,708.1C566.2,709.1 569.6,710.7 572.5,712.5C575.4,714.3 577.9,716.5 580.0,718.8C582.1,721.0 584.2,723.9 585.0,726.2C585.8,728.6 585.5,731.0 585.0,733.0C584.5,735.0 583.7,736.1 582.0,738.0C580.3,739.9 578.4,742.1 575.0,744.2C571.6,746.3 565.3,749.0 561.7,750.8C558.1,752.6 558.0,753.6 553.3,755.0C548.6,756.4 540.0,758.4 533.3,759.2C526.6,760.0 520.0,760.3 513.3,760.0C506.6,759.7 499.1,758.9 493.3,757.5C487.5,756.1 482.1,754.1 478.3,751.7C474.6,749.3 472.2,745.9 470.8,743.3C469.4,740.6 469.3,738.3 470.0,735.8Z"/>
<path d="M496.7,738.0C496.4,735.8 498.1,733.8 500.0,732.0C501.9,730.2 504.9,728.6 508.0,727.0C511.1,725.4 514.9,723.6 518.8,722.5C522.6,721.4 527.1,720.5 531.2,720.3C535.4,720.1 540.0,720.5 543.8,721.2C547.5,722.0 551.2,723.5 553.8,725.0C556.2,726.5 558.0,728.7 558.8,730.5C559.5,732.3 559.2,734.2 558.0,736.0C556.8,737.8 554.7,739.7 551.7,741.5C548.7,743.3 544.2,745.4 540.0,746.7C535.8,748.0 531.2,748.8 526.7,749.2C522.2,749.6 517.5,749.8 513.3,749.2C509.1,748.6 504.5,747.4 501.7,745.5C498.9,743.6 497.0,740.2 496.7,738.0Z"/>
<path d="M327.5,790.5C327.7,788.7 329.6,786.4 332.0,785.0C334.4,783.6 338.2,782.8 342.0,782.3C345.8,781.8 350.8,781.5 355.0,781.7C359.2,781.9 363.8,782.5 367.0,783.5C370.2,784.5 373.7,785.9 374.5,787.5C375.3,789.1 374.1,791.3 372.0,793.0C369.9,794.7 365.7,796.3 362.0,797.5C358.3,798.7 353.7,800.0 350.0,800.3C346.3,800.6 343.2,800.2 340.0,799.5C336.8,798.8 333.1,797.5 331.0,796.0C328.9,794.5 327.3,792.3 327.5,790.5Z"/>
<path d="M752.1,405.0C752.3,406.2 752.2,407.6 751.8,409.0C751.4,410.3 750.6,411.7 749.6,413.1C748.6,414.4 747.2,415.8 745.6,417.0C744.0,418.3 742.1,419.5 740.1,420.5C738.0,421.6 735.7,422.6 733.4,423.4C731.0,424.2 728.5,424.8 726.0,425.3C723.5,425.8 720.8,426.1 718.4,426.3C715.9,426.4 713.4,426.4 711.1,426.2C708.8,426.0 706.6,425.5 704.6,425.0C702.7,424.4 700.9,423.7 699.5,422.8C698.0,422.0 696.8,420.9 695.9,419.8C695.0,418.7 694.4,417.5 694.1,416.2C693.9,415.0 694.0,413.6 694.4,412.2C694.8,410.9 695.6,409.5 696.6,408.1C697.6,406.8 699.0,405.4 700.6,404.2C702.2,402.9 704.1,401.7 706.1,400.7C708.2,399.6 710.5,398.6 712.8,397.8C715.2,397.0 717.7,396.4 720.2,395.9C722.7,395.4 725.4,395.1 727.8,394.9C730.3,394.8 732.8,394.8 735.1,395.0C737.4,395.2 739.6,395.7 741.6,396.2C743.5,396.8 745.3,397.5 746.7,398.4C748.2,399.2 749.4,400.3 750.3,401.4C751.2,402.5 751.8,403.7 752.1,405.0Z"/>
</g>
<polyline fill="none" stroke="#000" stroke-width="3.8" stroke-linejoin="round" stroke-linecap="butt" points="125.0,735.6 127.5,743.1 131.2,741.9 133.8,741.0 141.9,741.0 145.6,738.1 148.8,745.0 151.9,745.6 155.0,752.5 158.1,745.0 162.5,744.0 178.8,744.0 185.0,745.2 191.2,746.0 196.9,746.0 200.0,738.8 203.1,741.5 206.2,729.8 209.8,729.4 211.0,707.5 211.9,686.2 213.8,695.0 215.4,700.6 218.1,692.8 239.8,692.8 242.5,702.5 245.6,712.5 247.9,719.4 251.2,720.0 253.8,725.0 256.9,731.2 260.6,735.0 263.8,738.5 268.8,738.1 271.9,735.6 280.0,735.6 286.2,735.0 289.4,736.9 293.1,738.1 296.0,729.0 298.8,733.8 302.5,740.2 306.2,739.0 311.2,743.8 315.0,743.1 317.5,749.0 320.6,746.2 325.0,750.0 328.1,753.8 330.0,759.4 332.5,762.5 338.1,762.8 342.5,765.6 345.6,765.6 348.8,769.4 351.0,773.1 352.5,786.2 354.4,797.5 356.5,803.8 358.8,800.6 361.9,796.9 364.4,796.0 368.1,793.8 371.2,793.5 375.0,791.9 377.5,786.2 380.6,785.0 383.8,783.5 386.2,767.5 388.1,766.5 395.6,766.5 398.8,769.0 404.4,763.1 407.5,763.1 410.6,758.8 414.4,755.0 416.2,748.1 419.0,741.9 422.5,740.0 426.2,736.2 430.6,736.2 435.0,738.5 437.5,737.2 440.6,737.5 443.8,750.0 445.0,740.0 446.6,724.4 448.8,726.2 451.9,721.2 455.6,718.8 458.8,705.0 462.5,708.1 467.5,705.6 473.1,711.2 476.9,718.1 482.5,717.5 486.2,713.8 490.0,712.5 493.8,713.1 500.0,717.5 503.8,721.9 507.5,713.8 510.6,711.9 513.1,712.5 516.2,716.9 519.4,712.5 525.0,713.1 528.1,708.1 531.2,705.0 534.4,700.0 538.1,699.4 541.9,698.8 545.0,700.0 551.2,700.0 555.0,690.6 558.8,687.5 561.2,683.1 563.8,686.2 566.9,689.4 570.0,686.2 573.1,688.1 575.6,686.0 578.8,685.2 581.9,680.6 585.0,677.5 587.5,673.1 590.6,671.9 594.4,670.6 597.5,667.5 602.5,665.0 606.2,664.4 609.4,663.1 612.5,665.6 615.0,666.2 616.2,661.2 617.5,650.0 619.4,641.9 621.9,637.5 624.4,636.2 627.2,636.2 630.3,597.0 633.3,577.0 645.3,274.0 654.4,274.0 657.5,296.2 672.5,296.2 675.2,325.0 678.1,305.6 681.2,305.6 684.8,353.1 693.1,353.1 696.2,358.8 697.5,377.5 699.8,412.2 705.6,412.2 707.5,390.0 708.5,373.8 711.2,372.8 713.8,365.0 720.6,365.0 723.1,372.5 725.0,381.2 726.9,397.5 728.8,384.4 731.9,383.8 735.0,395.0 738.1,401.2 740.0,390.0 741.9,378.8 745.0,377.5 746.9,375.6 750.6,375.6 752.5,383.8 755.0,390.6 757.5,394.4 760.0,393.1 762.5,392.2 765.0,406.9 768.1,405.0 771.9,405.0 775.0,411.2 778.1,416.9 780.6,416.9 783.8,411.0 786.9,431.9 789.4,431.9 792.5,425.0 795.6,425.0 798.8,431.9 801.9,433.8 805.0,446.9"/>
<rect x="62.5" y="42.5" width="787.2" height="817.5" fill="none" stroke="#c9c9c9" stroke-width="1.4"/>
<line x1="57.0" x2="62.5" y1="129.3" y2="129.3" stroke="#c9c9c9" stroke-width="1.2"/>
<text class="tk" x="54.7" y="136.10000000000002" text-anchor="end">8억</text>
<line x1="57.0" x2="62.5" y1="381.7" y2="381.7" stroke="#c9c9c9" stroke-width="1.2"/>
<text class="tk" x="54.7" y="388.5" text-anchor="end">6억</text>
<line x1="57.0" x2="62.5" y1="634.1" y2="634.1" stroke="#c9c9c9" stroke-width="1.2"/>
<text class="tk" x="54.7" y="640.9" text-anchor="end">4억</text>
<line x1="97.5" x2="97.5" y1="860.0" y2="865.5" stroke="#c9c9c9" stroke-width="1.2"/>
<text class="tk" text-anchor="end" transform="translate(103.5,878.6) rotate(-30)">200601</text>
<line x1="115.6" x2="115.6" y1="860.0" y2="865.5" stroke="#c9c9c9" stroke-width="1.2"/>
<text class="tk" text-anchor="end" transform="translate(121.6,878.6) rotate(-30)">200607</text>
<line x1="133.6" x2="133.6" y1="860.0" y2="865.5" stroke="#c9c9c9" stroke-width="1.2"/>
<text class="tk" text-anchor="end" transform="translate(139.6,878.6) rotate(-30)">200701</text>
<line x1="151.7" x2="151.7" y1="860.0" y2="865.5" stroke="#c9c9c9" stroke-width="1.2"/>
<text class="tk" text-anchor="end" transform="translate(157.7,878.6) rotate(-30)">200707</text>
<line x1="169.7" x2="169.7" y1="860.0" y2="865.5" stroke="#c9c9c9" stroke-width="1.2"/>
<text class="tk" text-anchor="end" transform="translate(175.7,878.6) rotate(-30)">200801</text>
<line x1="187.8" x2="187.8" y1="860.0" y2="865.5" stroke="#c9c9c9" stroke-width="1.2"/>
<text class="tk" text-anchor="end" transform="translate(193.8,878.6) rotate(-30)">200807</text>
<line x1="205.8" x2="205.8" y1="860.0" y2="865.5" stroke="#c9c9c9" stroke-width="1.2"/>
<text class="tk" text-anchor="end" transform="translate(211.8,878.6) rotate(-30)">200901</text>
<line x1="223.9" x2="223.9" y1="860.0" y2="865.5" stroke="#c9c9c9" stroke-width="1.2"/>
<text class="tk" text-anchor="end" transform="translate(229.9,878.6) rotate(-30)">200907</text>
<line x1="241.9" x2="241.9" y1="860.0" y2="865.5" stroke="#c9c9c9" stroke-width="1.2"/>
<text class="tk" text-anchor="end" transform="translate(247.9,878.6) rotate(-30)">201001</text>
<line x1="260.0" x2="260.0" y1="860.0" y2="865.5" stroke="#c9c9c9" stroke-width="1.2"/>
<text class="tk" text-anchor="end" transform="translate(266.0,878.6) rotate(-30)">201007</text>
<line x1="278.1" x2="278.1" y1="860.0" y2="865.5" stroke="#c9c9c9" stroke-width="1.2"/>
<text class="tk" text-anchor="end" transform="translate(284.1,878.6) rotate(-30)">201101</text>
<line x1="296.1" x2="296.1" y1="860.0" y2="865.5" stroke="#c9c9c9" stroke-width="1.2"/>
<text class="tk" text-anchor="end" transform="translate(302.1,878.6) rotate(-30)">201107</text>
<line x1="314.2" x2="314.2" y1="860.0" y2="865.5" stroke="#c9c9c9" stroke-width="1.2"/>
<text class="tk" text-anchor="end" transform="translate(320.2,878.6) rotate(-30)">201201</text>
<line x1="332.2" x2="332.2" y1="860.0" y2="865.5" stroke="#c9c9c9" stroke-width="1.2"/>
<text class="tk" text-anchor="end" transform="translate(338.2,878.6) rotate(-30)">201207</text>
<line x1="350.3" x2="350.3" y1="860.0" y2="865.5" stroke="#c9c9c9" stroke-width="1.2"/>
<text class="tk" text-anchor="end" transform="translate(356.3,878.6) rotate(-30)">201301</text>
<line x1="368.3" x2="368.3" y1="860.0" y2="865.5" stroke="#c9c9c9" stroke-width="1.2"/>
<text class="tk" text-anchor="end" transform="translate(374.3,878.6) rotate(-30)">201307</text>
<line x1="386.4" x2="386.4" y1="860.0" y2="865.5" stroke="#c9c9c9" stroke-width="1.2"/>
<text class="tk" text-anchor="end" transform="translate(392.4,878.6) rotate(-30)">201401</text>
<line x1="404.5" x2="404.5" y1="860.0" y2="865.5" stroke="#c9c9c9" stroke-width="1.2"/>
<text class="tk" text-anchor="end" transform="translate(410.5,878.6) rotate(-30)">201407</text>
<line x1="422.5" x2="422.5" y1="860.0" y2="865.5" stroke="#c9c9c9" stroke-width="1.2"/>
<text class="tk" text-anchor="end" transform="translate(428.5,878.6) rotate(-30)">201501</text>
<line x1="440.6" x2="440.6" y1="860.0" y2="865.5" stroke="#c9c9c9" stroke-width="1.2"/>
<text class="tk" text-anchor="end" transform="translate(446.6,878.6) rotate(-30)">201507</text>
<line x1="458.6" x2="458.6" y1="860.0" y2="865.5" stroke="#c9c9c9" stroke-width="1.2"/>
<text class="tk" text-anchor="end" transform="translate(464.6,878.6) rotate(-30)">201601</text>
<line x1="476.7" x2="476.7" y1="860.0" y2="865.5" stroke="#c9c9c9" stroke-width="1.2"/>
<text class="tk" text-anchor="end" transform="translate(482.7,878.6) rotate(-30)">201607</text>
<line x1="494.7" x2="494.7" y1="860.0" y2="865.5" stroke="#c9c9c9" stroke-width="1.2"/>
<text class="tk" text-anchor="end" transform="translate(500.7,878.6) rotate(-30)">201701</text>
<line x1="512.8" x2="512.8" y1="860.0" y2="865.5" stroke="#c9c9c9" stroke-width="1.2"/>
<text class="tk" text-anchor="end" transform="translate(518.8,878.6) rotate(-30)">201707</text>
<line x1="530.8" x2="530.8" y1="860.0" y2="865.5" stroke="#c9c9c9" stroke-width="1.2"/>
<text class="tk" text-anchor="end" transform="translate(536.8,878.6) rotate(-30)">201801</text>
<line x1="548.9" x2="548.9" y1="860.0" y2="865.5" stroke="#c9c9c9" stroke-width="1.2"/>
<text class="tk" text-anchor="end" transform="translate(554.9,878.6) rotate(-30)">201807</text>
<line x1="567.0" x2="567.0" y1="860.0" y2="865.5" stroke="#c9c9c9" stroke-width="1.2"/>
<text class="tk" text-anchor="end" transform="translate(573.0,878.6) rotate(-30)">201901</text>
<line x1="585.0" x2="585.0" y1="860.0" y2="865.5" stroke="#c9c9c9" stroke-width="1.2"/>
<text class="tk" text-anchor="end" transform="translate(591.0,878.6) rotate(-30)">201907</text>
<line x1="603.1" x2="603.1" y1="860.0" y2="865.5" stroke="#c9c9c9" stroke-width="1.2"/>
<text class="tk" text-anchor="end" transform="translate(609.1,878.6) rotate(-30)">202001</text>
<line x1="621.1" x2="621.1" y1="860.0" y2="865.5" stroke="#c9c9c9" stroke-width="1.2"/>
<text class="tk" text-anchor="end" transform="translate(627.1,878.6) rotate(-30)">202007</text>
<line x1="639.2" x2="639.2" y1="860.0" y2="865.5" stroke="#c9c9c9" stroke-width="1.2"/>
<text class="tk" text-anchor="end" transform="translate(645.2,878.6) rotate(-30)">202101</text>
<line x1="657.2" x2="657.2" y1="860.0" y2="865.5" stroke="#c9c9c9" stroke-width="1.2"/>
<text class="tk" text-anchor="end" transform="translate(663.2,878.6) rotate(-30)">202107</text>
<line x1="675.3" x2="675.3" y1="860.0" y2="865.5" stroke="#c9c9c9" stroke-width="1.2"/>
<text class="tk" text-anchor="end" transform="translate(681.3,878.6) rotate(-30)">202201</text>
<line x1="693.3" x2="693.3" y1="860.0" y2="865.5" stroke="#c9c9c9" stroke-width="1.2"/>
<text class="tk" text-anchor="end" transform="translate(699.3,878.6) rotate(-30)">202207</text>
<line x1="711.4" x2="711.4" y1="860.0" y2="865.5" stroke="#c9c9c9" stroke-width="1.2"/>
<text class="tk" text-anchor="end" transform="translate(717.4,878.6) rotate(-30)">202301</text>
<line x1="729.5" x2="729.5" y1="860.0" y2="865.5" stroke="#c9c9c9" stroke-width="1.2"/>
<text class="tk" text-anchor="end" transform="translate(735.5,878.6) rotate(-30)">202307</text>
<line x1="747.5" x2="747.5" y1="860.0" y2="865.5" stroke="#c9c9c9" stroke-width="1.2"/>
<text class="tk" text-anchor="end" transform="translate(753.5,878.6) rotate(-30)">202401</text>
<line x1="765.6" x2="765.6" y1="860.0" y2="865.5" stroke="#c9c9c9" stroke-width="1.2"/>
<text class="tk" text-anchor="end" transform="translate(771.6,878.6) rotate(-30)">202407</text>
<line x1="783.6" x2="783.6" y1="860.0" y2="865.5" stroke="#c9c9c9" stroke-width="1.2"/>
<text class="tk" text-anchor="end" transform="translate(789.6,878.6) rotate(-30)">202501</text>
<line x1="801.7" x2="801.7" y1="860.0" y2="865.5" stroke="#c9c9c9" stroke-width="1.2"/>
<text class="tk" text-anchor="end" transform="translate(807.7,878.6) rotate(-30)">202507</text>
<text class="ax" x="456.1" y="925.5" text-anchor="middle">거래년월</text>
<text class="ax" text-anchor="middle" transform="translate(23.0,451.2) rotate(-90)">매매가(원)</text>
<text class="cap" x="849.2" y="949" text-anchor="end">©디아파트(dapt.kr) / 2025.08.27 / 자료=국토교통부 실거래가</text>
<line x1="880" x2="902.5" y1="412.8" y2="412.8" stroke="#F8766D" stroke-opacity="0.32" stroke-width="1.6"/>
<circle cx="891.25" cy="412.8" r="4.2" fill="#F8766D" fill-opacity="0.32" stroke="#F8766D" stroke-opacity="0.32"/>
<text class="lg" x="915.3" y="418.5">85</text>
<line x1="880" x2="902.5" y1="441.5" y2="441.5" stroke="#7CAE00" stroke-opacity="0.32" stroke-width="1.6"/>
<circle cx="891.25" cy="441.5" r="4.2" fill="#7CAE00" fill-opacity="0.32" stroke="#7CAE00" stroke-opacity="0.32"/>
<text class="lg" x="915.3" y="447.2">105</text>
<line x1="880" x2="902.5" y1="470.3" y2="470.3" stroke="#00BFC4" stroke-opacity="0.32" stroke-width="1.6"/>
<circle cx="891.25" cy="470.3" r="4.2" fill="#00BFC4" fill-opacity="0.32" stroke="#00BFC4" stroke-opacity="0.32"/>
<text class="lg" x="915.3" y="476.0">125</text>
<line x1="880" x2="902.5" y1="499.0" y2="499.0" stroke="#C77CFF" stroke-opacity="0.32" stroke-width="1.6"/>
<circle cx="891.25" cy="499.0" r="4.2" fill="#C77CFF" fill-opacity="0.32" stroke="#C77CFF" stroke-opacity="0.32"/>
<text class="lg" x="915.3" y="504.7">130</text>
</svg></body></html>
